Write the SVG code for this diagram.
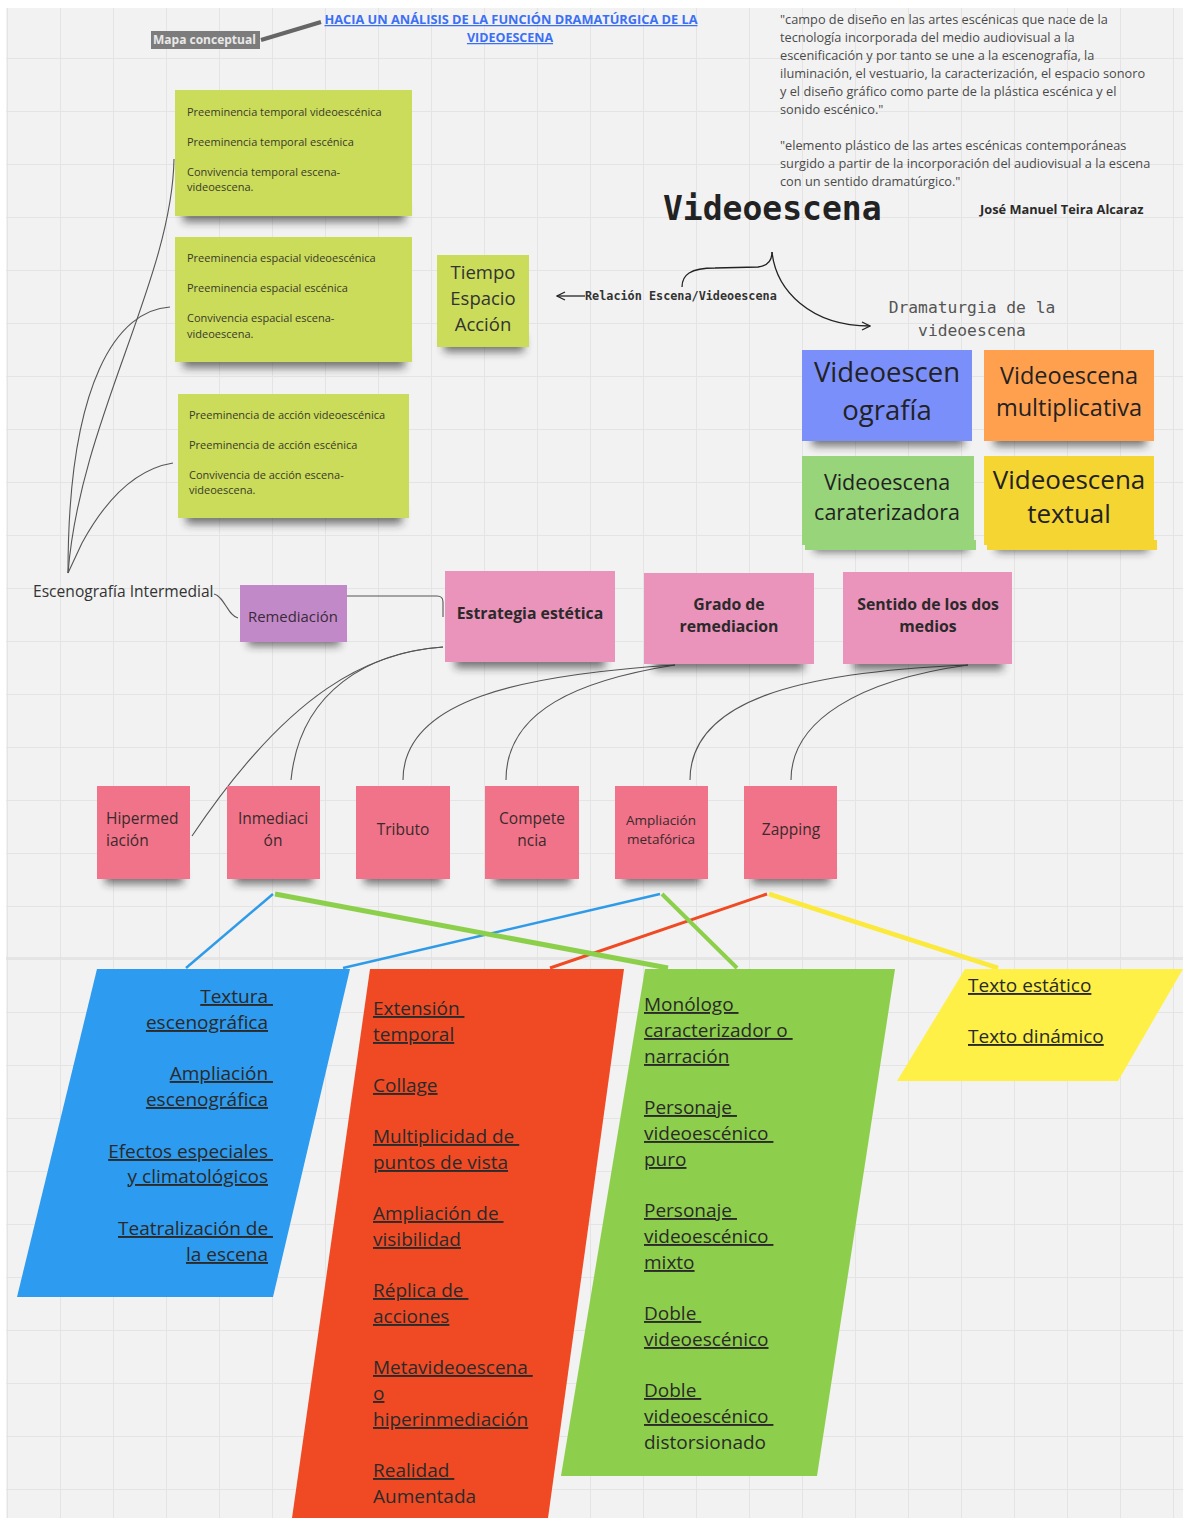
<svg xmlns="http://www.w3.org/2000/svg" width="1183" height="1518" viewBox="0 0 1183 1518">
<style>
.os{font-family:"Open Sans","Liberation Sans",sans-serif;fill:#333}
.mono{font-family:"DejaVu Sans Mono","Liberation Mono",monospace}
.g11{font-size:11px;fill:#3a3a2a}
.shd{fill:#222;opacity:.6;filter:url(#blur)}
.con{fill:none;stroke:#555;stroke-width:1.1}
.big{fill:#222;text-anchor:middle}
.pb{font-weight:bold;font-size:15.8px;text-anchor:middle;fill:#2a2a2a}
.rt{font-size:15.5px;fill:#3a2a2a}
.pt{font-size:19px;text-decoration:underline;fill:#2a2a2a}
.pn{font-size:19px;fill:#2a2a2a}
</style>
<defs>
<pattern id="grid" width="53" height="53" patternUnits="userSpaceOnUse" x="7" y="5"><path d="M0 0.5H53M0.5 0V53" stroke="#e4e4e4" stroke-width="1" fill="none"/></pattern>
<filter id="blur" x="-20%" y="-100%" width="140%" height="300%"><feGaussianBlur stdDeviation="4"/></filter>
<marker id="arr" viewBox="0 0 10 10" refX="9" refY="5" markerWidth="10" markerHeight="10" markerUnits="userSpaceOnUse" orient="auto"><path d="M1 1 L9 5 L1 9" fill="none" stroke="#222" stroke-width="1.3"/></marker>
</defs>
<rect width="1183" height="1518" fill="#ffffff"/>
<rect x="6" y="8" width="1177" height="1510" fill="#f2f2f2"/>
<rect x="6" y="8" width="1177" height="1510" fill="url(#grid)"/>
<line x1="6" y1="958" x2="1183" y2="958" stroke="#e0e0e0" stroke-width="1.5"/>

<!-- connectors -->
<g id="connectors">
<line x1="261" y1="40" x2="321" y2="22" stroke="#666" stroke-width="4"/>
<path class="con" d="M174 159 C172 280 80 420 68 573"/>
<path class="con" d="M170 307 C118 310 68 380 68 573"/>
<path class="con" d="M173 463 C130 470 100 510 82 543 L68 573"/>
<path class="con" d="M214 594 C224 596 228 616 238 618"/>
<path class="con" d="M340 622 L340 602 Q340 596 346 596 L437 596 Q443 596 443 602 L443 617"/>
<path class="con" d="M443 647 C370 652 300 690 291 780"/>
<path class="con" d="M443 647 C370 652 290 690 192 836"/>
<path class="con" d="M675 665 C520 675 403 700 403 780"/>
<path class="con" d="M675 665 C580 680 506 710 506 780"/>
<path class="con" d="M968 665 C800 672 690 700 690 780"/>
<path class="con" d="M968 665 C860 680 791 720 791 780"/>
<line x1="585" y1="296" x2="557" y2="296" stroke="#222" stroke-width="1.3" marker-end="url(#arr)"/>
<path d="M682 287 C682 275 690 268 715 268 L758 267 C768 266 772 260 772 252" fill="none" stroke="#222" stroke-width="1.3"/>
<path d="M772 252 C776 290 810 326 870 326" fill="none" stroke="#222" stroke-width="1.3" marker-end="url(#arr)"/>
<line x1="273" y1="894" x2="186" y2="968" stroke="#2f9be8" stroke-width="2.5"/>
<line x1="660" y1="894" x2="343" y2="968" stroke="#2f9be8" stroke-width="2.5"/>
<line x1="767" y1="894" x2="550" y2="968" stroke="#ef4a23" stroke-width="3"/>
<line x1="275" y1="894" x2="668" y2="968" stroke="#8ccf4a" stroke-width="5"/>
<line x1="662" y1="894" x2="737" y2="968" stroke="#8ccf4a" stroke-width="4"/>
<line x1="769" y1="894" x2="998" y2="968" stroke="#fbe93d" stroke-width="4.5"/>
</g>

<!-- header -->
<g id="mapa">
<rect x="151" y="31" width="109" height="18" fill="#7c7c7c"/>
<text x="153" y="44" class="os" style="font-size:12px;font-weight:bold;fill:#e8e8e8">Mapa conceptual</text>
</g>
<g id="titulo">
<text x="511" y="24" class="os" text-anchor="middle" textLength="373" lengthAdjust="spacingAndGlyphs" style="font-size:12.5px;font-weight:bold;fill:#3b6ff5;text-decoration:underline">HACIA UN ANÁLISIS DE LA FUNCIÓN DRAMATÚRGICA DE LA</text>
<text x="510" y="42" class="os" text-anchor="middle" style="font-size:12.5px;font-weight:bold;fill:#3b6ff5;text-decoration:underline">VIDEOESCENA</text>
</g>
<g id="cita" class="os" style="font-size:12.75px;fill:#4a4a4a">
<text x="780" y="24">"campo de diseño en las artes escénicas que nace de la</text>
<text x="780" y="42">tecnología incorporada del medio audiovisual a la</text>
<text x="780" y="60">escenificación y por tanto se une a la escenografía, la</text>
<text x="780" y="78">iluminación, el vestuario, la caracterización, el espacio sonoro</text>
<text x="780" y="96">y el diseño gráfico como parte de la plástica escénica y el</text>
<text x="780" y="114">sonido escénico."</text>
<text x="780" y="150">"elemento plástico de las artes escénicas contemporáneas</text>
<text x="780" y="168">surgido a partir de la incorporación del audiovisual a la escena</text>
<text x="780" y="186">con un sentido dramatúrgico."</text>
</g>
<g id="autor"><text x="980" y="214" class="os" style="font-size:12.8px;font-weight:bold;fill:#2a2a2a">José Manuel Teira Alcaraz</text></g>
<g id="videoescena"><text x="663" y="220" class="mono" style="font-size:33px;font-weight:bold;fill:#222">Videoescena</text></g>
<g id="relacion"><text x="585" y="300" class="mono" style="font-size:11.8px;font-weight:bold;fill:#333">Relación Escena/Videoescena</text></g>
<g id="dramaturgia" class="mono" style="font-size:16.3px;fill:#555">
<text x="972" y="313" text-anchor="middle">Dramaturgia de la</text>
<text x="972" y="336" text-anchor="middle">videoescena</text>
</g>

<!-- green notes -->
<g id="temporal">
<rect class="shd" x="183" y="204" width="222" height="18"/>
<rect x="175" y="90" width="237" height="126" fill="#cadc5a"/>
<g class="os g11"><text x="187" y="116">Preeminencia temporal videoescénica</text><text x="187" y="146">Preeminencia temporal escénica</text><text x="187" y="176">Convivencia temporal escena-</text><text x="187" y="191">videoescena.</text></g>
</g>
<g id="espacial">
<rect class="shd" x="183" y="350" width="222" height="18"/>
<rect x="175" y="237" width="237" height="125" fill="#cadc5a"/>
<g class="os g11"><text x="187" y="262">Preeminencia espacial videoescénica</text><text x="187" y="292">Preeminencia espacial escénica</text><text x="187" y="322">Convivencia espacial escena-</text><text x="187" y="338">videoescena.</text></g>
</g>
<g id="accion">
<rect class="shd" x="186" y="506" width="216" height="18"/>
<rect x="178" y="394" width="231" height="124" fill="#cadc5a"/>
<g class="os g11"><text x="189" y="419">Preeminencia de acción videoescénica</text><text x="189" y="449">Preeminencia de acción escénica</text><text x="189" y="479">Convivencia de acción escena-</text><text x="189" y="494">videoescena.</text></g>
</g>
<g id="tea">
<rect class="shd" x="444" y="336" width="80" height="16"/>
<rect x="437" y="255" width="92" height="92" fill="#cadc5a"/>
<g class="os big" style="font-size:18.5px;fill:#333"><text x="483" y="279">Tiempo</text><text x="483" y="305">Espacio</text><text x="483" y="331">Acción</text></g>
</g>

<!-- right colored notes -->
<g id="videoescenografia">
<rect class="shd" x="812" y="430" width="152" height="16"/>
<rect x="802" y="350" width="170" height="91" fill="#7b8ffa"/>
<g class="os big" style="font-size:27.5px;fill:#222"><text x="887" y="382">Videoescen</text><text x="887" y="420">ografía</text></g>
</g>
<g id="multiplicativa">
<rect class="shd" x="994" y="430" width="152" height="16"/>
<rect x="984" y="350" width="170" height="91" fill="#ffa04e"/>
<g class="os big" style="font-size:23.5px;fill:#222"><text x="1069" y="384">Videoescena</text><text x="1069" y="416">multiplicativa</text></g>
</g>
<g id="caraterizadora">
<rect class="shd" x="814" y="536" width="154" height="16"/>
<rect x="805" y="540" width="171" height="10" fill="#97d47a"/>
<rect x="802" y="456" width="172" height="89" fill="#97d47a"/>
<g class="os big" style="font-size:21.5px;fill:#222"><text x="887" y="490">Videoescena</text><text x="887" y="520">caraterizadora</text></g>
</g>
<g id="textual">
<rect class="shd" x="996" y="536" width="152" height="16"/>
<rect x="987" y="540" width="170" height="10" fill="#f5d532"/>
<rect x="984" y="456" width="170" height="89" fill="#f5d532"/>
<g class="os big" style="font-size:26px;fill:#222"><text x="1069" y="489">Videoescena</text><text x="1069" y="523">textual</text></g>
</g>

<!-- middle row -->
<g id="escenografia-intermedial"><text x="33" y="597" class="os" style="font-size:15.6px;fill:#333">Escenografía Intermedial</text></g>
<g id="remediacion">
<rect class="shd" x="248" y="632" width="92" height="14"/>
<rect x="240" y="585" width="107" height="57" fill="#c289c9"/>
<text x="248" y="622" class="os" style="font-size:14.9px;fill:#3a2a3a">Remediación</text>
</g>
<g id="estrategia">
<rect class="shd" x="455" y="650" width="150" height="18"/>
<rect x="445" y="571" width="170" height="91" fill="#ea93bb"/>
<text x="530" y="619" class="os pb">Estrategia estética</text>
</g>
<g id="grado">
<rect class="shd" x="654" y="652" width="150" height="18"/>
<rect x="644" y="573" width="170" height="91" fill="#ea93bb"/>
<text x="729" y="610" class="os pb">Grado de</text><text x="729" y="632" class="os pb">remediacion</text>
</g>
<g id="sentido">
<rect class="shd" x="853" y="652" width="150" height="18"/>
<rect x="843" y="572" width="169" height="92" fill="#ea93bb"/>
<text x="928" y="610" class="os pb">Sentido de los dos</text><text x="928" y="632" class="os pb">medios</text>
</g>

<!-- red row -->
<g id="hipermediacion">
<rect class="shd" x="105" y="868" width="78" height="16"/>
<rect x="97" y="786" width="93" height="93" fill="#f0738a"/>
<g class="os rt"><text x="106" y="824">Hipermed</text><text x="106" y="846">iación</text></g>
</g>
<g id="inmediacion">
<rect class="shd" x="235" y="868" width="78" height="16"/>
<rect x="227" y="786" width="93" height="93" fill="#f0738a"/>
<g class="os rt" text-anchor="middle"><text x="273" y="824">Inmediaci</text><text x="273" y="846">ón</text></g>
</g>
<g id="tributo">
<rect class="shd" x="364" y="868" width="78" height="16"/>
<rect x="356" y="786" width="94" height="93" fill="#f0738a"/>
<text x="403" y="835" class="os rt" text-anchor="middle">Tributo</text>
</g>
<g id="competencia">
<rect class="shd" x="493" y="868" width="78" height="16"/>
<rect x="485" y="786" width="94" height="93" fill="#f0738a"/>
<g class="os rt" text-anchor="middle"><text x="532" y="824">Compete</text><text x="532" y="846">ncia</text></g>
</g>
<g id="ampliacion">
<rect class="shd" x="623" y="868" width="78" height="16"/>
<rect x="615" y="786" width="93" height="93" fill="#f0738a"/>
<g class="os" text-anchor="middle" style="font-size:13.5px;fill:#3a2a2a"><text x="661" y="825">Ampliación</text><text x="661" y="844">metafórica</text></g>
</g>
<g id="zapping">
<rect class="shd" x="752" y="868" width="78" height="16"/>
<rect x="744" y="786" width="93" height="93" fill="#f0738a"/>
<text x="791" y="835" class="os rt" text-anchor="middle">Zapping</text>
</g>

<!-- parallelograms -->
<g id="azul">
<polygon points="97,969 350,969 273,1297 17,1297" fill="#2d9bef"/>
<g class="os pt" text-anchor="end">
<text x="273" y="1003">Textura&#160;</text><text x="268" y="1029">escenográfica</text>
<text x="273" y="1080">Ampliación&#160;</text><text x="268" y="1106">escenográfica</text>
<text x="273" y="1158">Efectos especiales&#160;</text><text x="268" y="1183">y climatológicos</text>
<text x="273" y="1235">Teatralización de&#160;</text><text x="268" y="1261">la escena</text>
</g>
</g>
<g id="rojo">
<polygon points="370,969 624,969 548,1518 292,1518" fill="#f04a25"/>
<g class="os pt">
<text x="373" y="1015">Extensión&#160;</text><text x="373" y="1041">temporal</text>
<text x="373" y="1092">Collage</text>
<text x="373" y="1143">Multiplicidad de&#160;</text><text x="373" y="1169">puntos de vista</text>
<text x="373" y="1220">Ampliación de&#160;</text><text x="373" y="1246">visibilidad</text>
<text x="373" y="1297">Réplica de&#160;</text><text x="373" y="1323">acciones</text>
<text x="373" y="1374">Metavideoescena&#160;</text><text x="373" y="1400">o</text><text x="373" y="1426">hiperinmediación</text>
<text x="373" y="1477">Realidad&#160;</text>
</g>
<text x="373" y="1503" class="os pn">Aumentada</text>
</g>
<g id="verde">
<polygon points="645,969 895,969 817,1476 561,1476" fill="#8dcf4c"/>
<g class="os pt">
<text x="644" y="1011">Monólogo&#160;</text><text x="644" y="1037">caracterizador o&#160;</text><text x="644" y="1063">narración</text>
<text x="644" y="1114">Personaje&#160;</text><text x="644" y="1140">videoescénico&#160;</text><text x="644" y="1166">puro</text>
<text x="644" y="1217">Personaje&#160;</text><text x="644" y="1243">videoescénico&#160;</text><text x="644" y="1269">mixto</text>
<text x="644" y="1320">Doble&#160;</text><text x="644" y="1346">videoescénico</text>
<text x="644" y="1397">Doble&#160;</text><text x="644" y="1423">videoescénico&#160;</text>
</g>
<text x="644" y="1449" class="os pn">distorsionado</text>
</g>
<g id="amarillo">
<polygon points="965,969 1183,969 1118,1081 897,1081" fill="#fef046"/>
<g class="os pt"><text x="968" y="992">Texto estático</text><text x="968" y="1043">Texto dinámico</text></g>
</g>
</svg>
